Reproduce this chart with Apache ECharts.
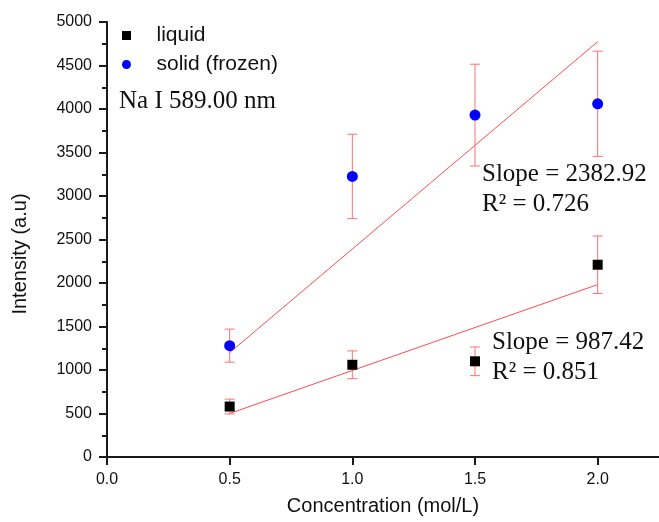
<!DOCTYPE html>
<html>
<head>
<meta charset="utf-8">
<script src="https://cdn.jsdelivr.net/npm/echarts@6/dist/echarts.min.js"></script>
<style>html,body{margin:0;padding:0;background:#fff}#c{width:659px;height:522px}</style>
</head>
<body>
<div id="c"></div>
<script>
const concentration = [0.5, 1.0, 1.5, 2.0];
const liquid = [580, 1060, 1100, 2210];
const liquidErr = [85, 160, 165, 330];
const solid = [1280, 3225, 3930, 4060];
const solidErr = [190, 485, 585, 605];
const fitSlope = { liquid: 987.42, solid: 2382.92 };
const fitIntercept = { liquid: 7, solid: 8 };
const fitR2 = { liquid: 0.851, solid: 0.726 };
const xTicks = [0.0, 0.5, 1.0, 1.5, 2.0];
const yTicks = [0, 500, 1000, 1500, 2000, 2500, 3000, 3500, 4000, 4500, 5000];

const sans = '"Liberation Sans", Arial, sans-serif';
const serif = '"Liberation Serif", "Times New Roman", serif';

function pts(ys) { return concentration.map((x, i) => [x, ys[i]]); }
function errs(ys, es) { return concentration.map((x, i) => [x, ys[i] - es[i], ys[i] + es[i]]); }
function fit(k) {
  const xs = [concentration[0], concentration[concentration.length - 1]];
  return xs.map(x => [x, fitSlope[k] * x + fitIntercept[k]]);
}
function errRender(params, api) {
  const x = api.value(0);
  const lo = api.coord([x, api.value(1)]);
  const hi = api.coord([x, api.value(2)]);
  const w = 5;
  const st = { stroke: '#ff7070', lineWidth: 1 };
  return { type: 'group', children: [
    { type: 'line', shape: { x1: lo[0], y1: lo[1], x2: hi[0], y2: hi[1] }, style: st },
    { type: 'line', shape: { x1: lo[0] - w, y1: lo[1], x2: lo[0] + w, y2: lo[1] }, style: st },
    { type: 'line', shape: { x1: hi[0] - w, y1: hi[1], x2: hi[0] + w, y2: hi[1] }, style: st }
  ]};
}

const squareIcon = 'path://M0,0L10,0L10,10L0,10Z';

const chart = echarts.init(document.getElementById('c'), null, { renderer: 'canvas' });
chart.setOption({
  animation: false,
  backgroundColor: '#fff',
  grid: { left: 107, right: -1, top: 22, bottom: 65, containLabel: false },
  legend: {
    orient: 'vertical', left: 117, top: 20, itemGap: 8,
    itemWidth: 30, itemHeight: 9, symbolKeepAspect: true,
    textStyle: { fontFamily: sans, fontSize: 21, color: '#111', lineHeight: 21, padding: [0, 0, 0, 10] },
    data: [
      { name: 'liquid', icon: squareIcon, itemStyle: { color: '#000' } },
      { name: 'solid (frozen)', icon: 'circle', itemStyle: { color: '#0000ff' } }
    ]
  },
  xAxis: {
    type: 'value', min: 0, max: 2.25, interval: 0.5,
    name: 'Concentration (mol/L)', nameLocation: 'middle', nameGap: 39,
    nameTextStyle: { fontFamily: sans, fontSize: 20, color: '#111' },
    axisLine: { show: true, onZero: false, lineStyle: { color: '#1a1a1a', width: 2 } },
    axisTick: { show: true, length: 8, customValues: xTicks, lineStyle: { color: '#1a1a1a', width: 2 } },
    axisLabel: { margin: 15, fontFamily: sans, fontSize: 16, color: '#111', customValues: xTicks,
      formatter: v => v.toFixed(1) },
    splitLine: { show: false }
  },
  yAxis: {
    type: 'value', min: 0, max: 5000, interval: 500,
    axisLine: { show: true, lineStyle: { color: '#1a1a1a', width: 2 } },
    axisTick: { show: true, length: 8, lineStyle: { color: '#1a1a1a', width: 2 } },
    minorTick: { show: true, splitNumber: 2, length: 5, lineStyle: { color: '#1a1a1a', width: 2 } },
    axisLabel: { margin: 15, fontFamily: sans, fontSize: 16, color: '#111',
      formatter: v => (yTicks.indexOf(v) >= 0 ? String(v) : '') },
    splitLine: { show: false }
  },
  graphic: [
    { type: 'text', x: 20, y: 254, rotation: Math.PI / 2, silent: true,
      style: { text: 'Intensity (a.u)', font: '20px ' + sans, fill: '#111', align: 'center', verticalAlign: 'middle' } },
    { type: 'text', x: 119, y: 101, style: { text: 'Na I 589.00 nm', font: '25px ' + serif, fill: '#111', verticalAlign: 'middle' } },
    { type: 'text', x: 482, y: 174, style: { text: 'Slope = ' + fitSlope.solid.toFixed(2), font: '25px ' + serif, fill: '#111', verticalAlign: 'middle' } },
    { type: 'text', x: 482, y: 204, style: { text: 'R² = ' + fitR2.solid.toFixed(3), font: '25px ' + serif, fill: '#111', verticalAlign: 'middle' } },
    { type: 'text', x: 492, y: 342, style: { text: 'Slope = ' + fitSlope.liquid.toFixed(2), font: '25px ' + serif, fill: '#111', verticalAlign: 'middle' } },
    { type: 'text', x: 492, y: 372, style: { text: 'R² = ' + fitR2.liquid.toFixed(3), font: '25px ' + serif, fill: '#111', verticalAlign: 'middle' } }
  ],
  series: [
    { name: 'liquid fit', type: 'line', data: fit('liquid'), symbol: 'none', z: 1,
      lineStyle: { color: '#ff4d4d', width: 1 } },
    { name: 'solid fit', type: 'line', data: fit('solid'), symbol: 'none', z: 1,
      lineStyle: { color: '#ff4d4d', width: 1 } },
    { name: 'liquid err', type: 'custom', data: errs(liquid, liquidErr), renderItem: errRender, z: 2,
      encode: { x: 0, y: [1, 2] } },
    { name: 'solid err', type: 'custom', data: errs(solid, solidErr), renderItem: errRender, z: 2,
      encode: { x: 0, y: [1, 2] } },
    { name: 'liquid', type: 'scatter', data: pts(liquid), symbol: 'rect', symbolSize: 10, z: 3,
      itemStyle: { color: '#000', opacity: 1 } },
    { name: 'solid (frozen)', type: 'scatter', data: pts(solid), symbol: 'circle', symbolSize: 11, z: 3,
      itemStyle: { color: '#0000ff', opacity: 1 } }
  ]
});
</script>
</body>
</html>
